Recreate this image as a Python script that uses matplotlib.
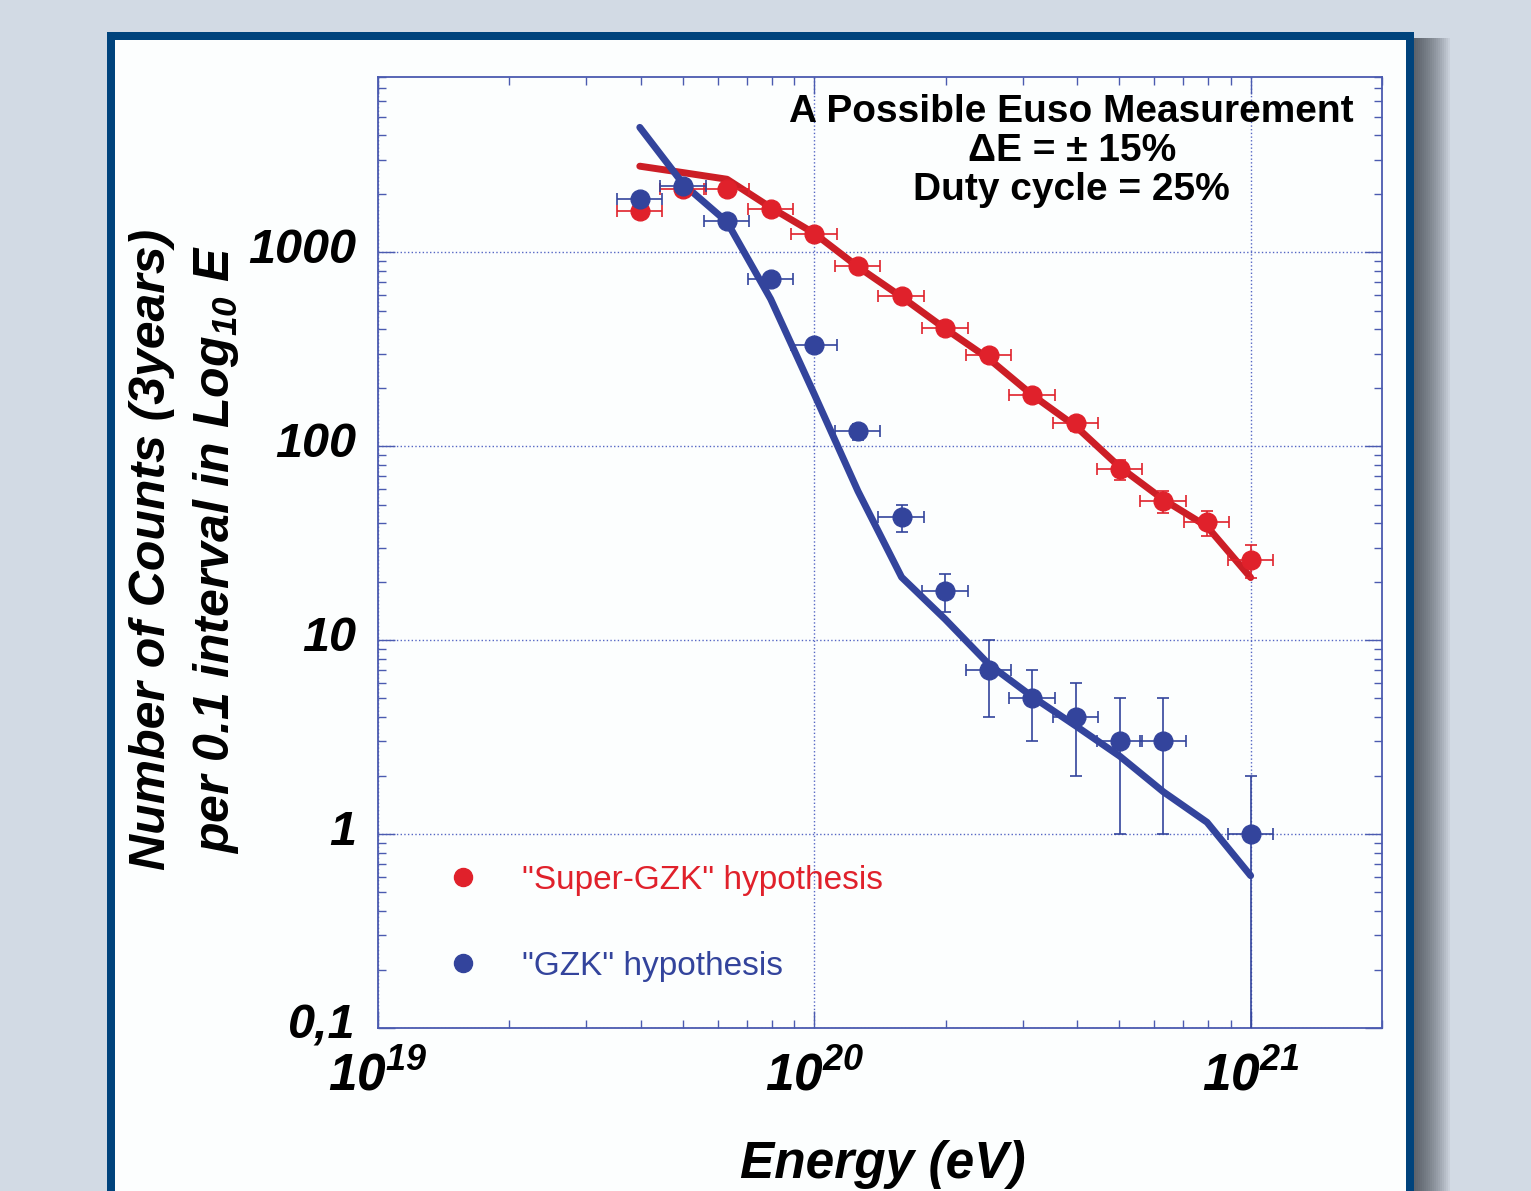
import numpy as np
import matplotlib
matplotlib.use("Agg")
import matplotlib.pyplot as plt
from matplotlib import font_manager
from matplotlib.patches import Rectangle
from matplotlib.lines import Line2D
from matplotlib.ticker import FixedLocator, NullFormatter, FuncFormatter
from matplotlib.transforms import ScaledTranslation

# energy bins, log10(E / eV)
log_e = [19.6, 19.7, 19.8, 19.9, 20.0, 20.1, 20.2, 20.3, 20.4, 20.5, 20.6, 20.7, 20.8, 20.9, 21.0]

# "Super-GZK" hypothesis
super_counts = [1630, 2110, 2110, 1660, 1240, 847, 593, 406, 294, 183, 131, 76, 52, 40.5, 26]
super_err = [40, 46, 46, 41, 35, 29, 24, 20, 17, 14, 11, 9, 7, 6, 5]
super_model = [2775, 2570, 2376, 1700, 1250, 840, 588, 403, 282, 183, 126, 78, 53, 38.5, 21]

# "GZK" hypothesis (no event in the 20.9 bin)
gzk_log_e = [19.6, 19.7, 19.8, 19.9, 20.0, 20.1, 20.2, 20.3, 20.4, 20.5, 20.6, 20.7, 20.8, 21.0]
gzk_counts = [1870, 2190, 1445, 726, 332, 119, 43, 18, 7, 5, 4, 3, 3, 1]
gzk_err = [43, 47, 38, 27, 18, 11, 7, 4, 3, 2, 2, 2, 2, 1]
gzk_model = [4400, 2240, 1430, 573, 185, 58.6, 21.1, 12.8, 7.5, 5.1, 3.6, 2.52, 1.65, 1.15, 0.61]

# energy resolution drawn as horizontal bars (fraction of E)
e_err_lo = 0.115
e_err_hi = 0.125

xticks = [1e19, 1e20, 1e21]
yticks = [0.1, 1, 10, 100, 1000]
ytick_labels = ["0,1", "1", "10", "100", "1000"]

legend_labels = ['"Super-GZK" hypothesis', '"GZK" hypothesis']
note = "A Possible Euso Measurement\n\u0394E = \u00b1 15%\nDuty cycle = 25%"

red_pt = "#E0212B"
red_ln = "#CC1E26"
blue = "#33449C"
axis_col = "#4B5BB0"

names = {f.name for f in font_manager.fontManager.ttflist}
narrow = "Liberation Sans Narrow" if "Liberation Sans Narrow" in names else "Liberation Sans"

plt.rcParams["mathtext.fontset"] = "custom"
plt.rcParams["mathtext.rm"] = narrow + ":italic:bold"
plt.rcParams["mathtext.it"] = narrow + ":italic:bold"
plt.rcParams["mathtext.bf"] = narrow + ":italic:bold"

W, H = 1531, 1191
fig = plt.figure(figsize=(W / 100, H / 100), dpi=100)
fig.patch.set_facecolor("#D2DAE4")

# panel: shadow, dark blue frame, white page (behind the axes)
for i in range(18):
    fig.patches.append(Rectangle((1414 / W, -0.02), (2 + i * 2) / W, (H - 38) / H + 0.02,
                                 transform=fig.transFigure, color="#2a2f38",
                                 alpha=0.06, lw=0, zorder=-10))
fig.patches.append(Rectangle((107 / W, -0.02), (1414 - 107) / W, (H - 32) / H + 0.02,
                             transform=fig.transFigure, color="#00437C", lw=0, zorder=-5))
fig.patches.append(Rectangle((115 / W, -0.02), (1406 - 115) / W, (H - 40) / H + 0.02,
                             transform=fig.transFigure, color="#FCFEFE", lw=0, zorder=-4))

ax = fig.add_axes([378 / W, 1 - 1028 / H, (1382 - 378) / W, (1028 - 77) / H])
ax.set_facecolor("#FCFEFE")
ax.set_xscale("log")
ax.set_yscale("log")
ax.set_xlim(1e19, 2e21)
ax.set_ylim(0.1, 8000)

E = 10 ** np.array(log_e)
E_gzk = 10 ** np.array(gzk_log_e)

ax.plot(E, super_model, color=red_ln, lw=5, solid_capstyle="round", zorder=3)
ax.plot(E, gzk_model, color=blue, lw=5, solid_capstyle="round", zorder=3)

ax.errorbar(E, super_counts, yerr=super_err,
            xerr=[E * e_err_lo, E * e_err_hi], fmt="o", color=red_pt, ms=13.5,
            elinewidth=1.2, capsize=4.5, capthick=1.2, zorder=4)
ax.errorbar(E_gzk, gzk_counts, yerr=gzk_err,
            xerr=[E_gzk * e_err_lo, E_gzk * e_err_hi], fmt="o", color=blue, ms=13.5,
            elinewidth=1.2, capsize=4.5, capthick=1.2, zorder=4)

ax.grid(True, which="major", ls=":", color="#5566C4", lw=1.0)

for s in ax.spines.values():
    s.set_color(axis_col)
    s.set_linewidth(1.3)

ax.xaxis.set_major_locator(FixedLocator(xticks))
ax.xaxis.set_major_formatter(FuncFormatter(lambda v, p: r"$10^{%d}$" % round(np.log10(v))))
ax.xaxis.set_minor_formatter(NullFormatter())
ax.set_yticks(yticks)
ax.set_yticklabels(ytick_labels, fontsize=35, fontweight="bold", fontstyle="italic",
                   family="Liberation Sans")
ax.yaxis.set_minor_formatter(NullFormatter())
ax.tick_params(which="both", direction="in", top=True, right=True, color=axis_col, width=1)
ax.tick_params(which="major", length=12)
ax.tick_params(which="minor", length=6)
ax.tick_params(axis="y", which="major", pad=16)
ax.tick_params(axis="x", which="major", pad=17, labelsize=37)

# y tick labels sit a little above their ticks
shift = ScaledTranslation(0, 7 / 100, fig.dpi_scale_trans)
for lbl in ax.get_yticklabels():
    lbl.set_transform(lbl.get_transform() + shift)

ax.set_xlabel("Energy (eV)", fontsize=37, fontweight="bold", fontstyle="italic", family=narrow)
ax.xaxis.set_label_coords(0.503, -0.118)
ax.set_ylabel("Number of Counts (3years)\nper 0.1 interval in Log$_{10}$ E", fontsize=36,
              fontweight="bold", fontstyle="italic", family=narrow, linespacing=1.42)
ax.yaxis.set_label_coords(-0.136, 0.503)

ax.text(0.691, 0.922, note, transform=ax.transAxes, ha="center", va="center",
        multialignment="center", fontsize=28, fontweight="bold", family="Liberation Sans",
        linespacing=1.1)

handles = [Line2D([], [], marker="o", ls="none", color=red_pt, ms=13),
           Line2D([], [], marker="o", ls="none", color=blue, ms=13)]
ax.legend(handles, legend_labels, loc="upper left", bbox_to_anchor=(0.0518, 0.1715),
          frameon=False, labelcolor=[red_pt, blue], borderpad=0, borderaxespad=0,
          handletextpad=0.76, labelspacing=1.64,
          prop={"family": "Liberation Sans", "size": 24})

fig.savefig("out.png", dpi=100, facecolor=fig.get_facecolor())
